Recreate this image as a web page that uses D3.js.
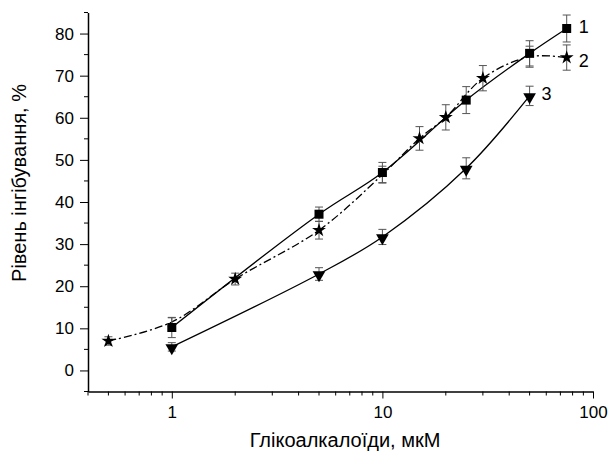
<!DOCTYPE html>
<html>
<head>
<meta charset="utf-8">
<script src="https://cdn.jsdelivr.net/npm/d3@7"></script>
<style>
  body { margin: 0; background: #fff; }
  text { font-family: "Liberation Sans", Arial, sans-serif; fill: #000; }
</style>
</head>
<body>
<svg id="chart" width="609" height="457"></svg>
<script>
// data
var xTicks = [1, 10, 100];
var yTicks = [0, 10, 20, 30, 40, 50, 60, 70, 80];

var conc1 = [1, 5, 10, 25, 50, 75];
var val1  = [10.2, 37.1, 47.0, 64.2, 75.3, 81.2];
var err1  = [2.4, 1.7, 2.4, 3.2, 3.0, 3.2];

var conc2 = [0.5, 1, 2, 5, 10, 15, 20, 30, 50, 75];
var val2  = [7.0, 11.5, 21.7, 33.3, 46.5, 55.1, 60.1, 69.4, 74.5, 74.3];
var err2  = [1.0, 1.0, 1.4, 2.1, 2.0, 2.8, 3.0, 3.0, 2.5, 3.0];

var conc3 = [1, 5, 10, 25, 50];
var val3  = [5.6, 22.9, 31.7, 48.0, 65.2];
var err3  = [1.0, 1.5, 1.8, 2.5, 2.3];

var seriesLabels = ["1", "2", "3"];
var labelDy = [4, 9, 4];

var svg = d3.select("#chart");

var x = d3.scaleLog().domain([0.4, 100]).range([88, 593]);
var y = d3.scaleLinear().domain([-5, 85]).range([391.5, 12.5]);

// axes
var xAxis = d3.axisBottom(x)
    .tickValues(xTicks)
    .tickFormat(d3.format("d"))
    .tickSize(7)
    .tickSizeOuter(0);
var gx = svg.append("g").attr("transform", "translate(0," + y(-5) + ")").call(xAxis);
gx.selectAll("text").attr("font-size", 17).attr("y", 0).attr("dy", "26");

// minor x ticks
var minorX = [];
[0.1, 1, 10].forEach(function (dec) {
    for (var k = 2; k <= 9; k++) {
        var v = k * dec;
        if (v >= 0.4 && v <= 100) minorX.push(v);
    }
});
gx.selectAll(".minor").data(minorX).enter().append("line")
    .attr("x1", function (d) { return x(d); })
    .attr("x2", function (d) { return x(d); })
    .attr("y1", 0).attr("y2", 4)
    .attr("stroke", "#000");

var yAxis = d3.axisLeft(y)
    .tickValues(yTicks)
    .tickSize(8)
    .tickSizeOuter(0);
var gy = svg.append("g").attr("transform", "translate(" + x(0.4) + ",0)").call(yAxis);
gy.selectAll("text").attr("font-size", 17).attr("x", -14);

var minorY = [-5, 5, 15, 25, 35, 45, 55, 65, 75, 85];
gy.selectAll(".minor").data(minorY).enter().append("line")
    .attr("x1", 0).attr("x2", -4)
    .attr("y1", function (d) { return y(d); })
    .attr("y2", function (d) { return y(d); })
    .attr("stroke", "#000");

svg.selectAll(".domain").attr("stroke-width", 1.5);

// titles
svg.append("text")
    .attr("x", 345).attr("y", 447)
    .attr("text-anchor", "middle")
    .attr("font-size", 20)
    .text("Глікоалкалоїди, мкМ");

svg.append("text")
    .attr("transform", "translate(26,183) rotate(-90)")
    .attr("text-anchor", "middle")
    .attr("font-size", 20)
    .text("Рівень інгібування, %");

function points(cs, vs, es) {
    return cs.map(function (c, i) { return { c: c, v: vs[i], e: es[i] }; });
}

var line = d3.line()
    .x(function (d) { return x(d.c); })
    .y(function (d) { return y(d.v); })
    .curve(d3.curveCatmullRom.alpha(0.5));

var s1 = points(conc1, val1, err1);
var s2 = points(conc2, val2, err2);
var s3 = points(conc3, val3, err3);

// lines
svg.append("path").datum(s2).attr("d", line)
    .attr("fill", "none").attr("stroke", "#000").attr("stroke-width", 1.3)
    .attr("stroke-dasharray", "8,3,2,3");
svg.append("path").datum(s1).attr("d", line)
    .attr("fill", "none").attr("stroke", "#000").attr("stroke-width", 1.3);
svg.append("path").datum(s3).attr("d", line)
    .attr("fill", "none").attr("stroke", "#000").attr("stroke-width", 1.3);

// error bars
function errorBars(data) {
    var g = svg.append("g").attr("stroke", "#555").attr("stroke-width", 1);
    data.forEach(function (d) {
        var cx = x(d.c);
        g.append("line").attr("x1", cx).attr("x2", cx).attr("y1", y(d.v - d.e)).attr("y2", y(d.v + d.e));
        g.append("line").attr("x1", cx - 4).attr("x2", cx + 4).attr("y1", y(d.v - d.e)).attr("y2", y(d.v - d.e));
        g.append("line").attr("x1", cx - 4).attr("x2", cx + 4).attr("y1", y(d.v + d.e)).attr("y2", y(d.v + d.e));
    });
}
errorBars(s2);
errorBars(s1);
errorBars(s3);

// markers (stars lying right under a square are covered in the original, so skip those)
var star = d3.symbol().type(d3.symbolStar).size(60);
var tri = d3.symbol().type(d3.symbolTriangle).size(70);

var visibleStars = s2.filter(function (d) {
    var j = conc1.indexOf(d.c);
    return j < 0 || Math.abs(val1[j] - d.v) > 2;
});

svg.selectAll(".m2").data(visibleStars).enter().append("path")
    .attr("d", star)
    .attr("transform", function (d) { return "translate(" + x(d.c) + "," + y(d.v) + ")"; })
    .attr("fill", "#000");

svg.selectAll(".m1").data(s1).enter().append("rect")
    .attr("x", function (d) { return x(d.c) - 4.5; })
    .attr("y", function (d) { return y(d.v) - 4.5; })
    .attr("width", 9).attr("height", 9)
    .attr("fill", "#000");

svg.selectAll(".m3").data(s3).enter().append("path")
    .attr("d", tri)
    .attr("transform", function (d) { return "translate(" + x(d.c) + "," + (y(d.v) + 1) + ") rotate(180)"; })
    .attr("fill", "#000");

// series labels next to last points
var lastPts = [s1[s1.length - 1], s2[s2.length - 1], s3[s3.length - 1]];
svg.selectAll(".lab").data(lastPts).enter().append("text")
    .attr("x", function (d) { return x(d.c) + 12; })
    .attr("y", function (d, i) { return y(d.v) + labelDy[i]; })
    .attr("font-size", 18)
    .text(function (d, i) { return seriesLabels[i]; });
</script>
</body>
</html>
